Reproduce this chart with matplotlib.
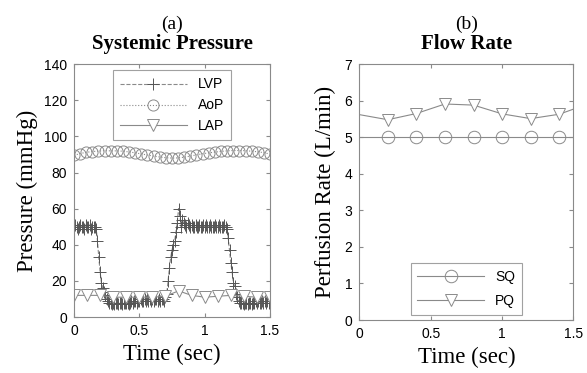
import numpy as np
import matplotlib
matplotlib.use('Agg')
import matplotlib.pyplot as plt

# (a) systemic pressure, sampled every 0.01 s
t_lvp = np.linspace(0, 1.5, 151)
lvp = [50, 51, 50, 49, 50, 51, 50, 50, 49, 51,
       50, 50, 51, 49, 50, 50, 50, 49, 42, 33,
       25, 19, 16, 14, 12, 10, 9, 8, 8, 7,
       8, 7, 8, 8, 7, 8, 8, 7, 8, 8,
       8, 8, 7, 8, 9, 8, 9, 9, 8, 9,
       9, 10, 9, 9, 10, 9, 10, 9, 10, 9,
       10, 9, 10, 10, 9, 10, 9, 10, 10, 9,
       11, 13, 20, 27, 33, 37, 40, 42, 47, 52,
       60, 56, 50, 54, 52, 51, 50, 52, 51, 50,
       51, 50, 50, 51, 50, 50, 51, 50, 50, 51,
       50, 51, 50, 50, 51, 50, 50, 50, 51, 50,
       50, 51, 50, 50, 50, 51, 50, 49, 44, 37,
       30, 25, 19, 17, 13, 11, 9, 8, 8, 8,
       7, 8, 8, 7, 8, 8, 7, 8, 8, 9,
       8, 9, 8, 8, 9, 8, 9, 8, 9, 8,
       9]

t_aop = np.linspace(0, 1.5, 33)
aop = [89.5, 90.5, 91.2, 91.6, 91.9, 92.1, 92.0, 92.0, 91.8, 91.4, 90.9,
       90.3, 89.7, 89.1, 88.6, 88.2, 88.0, 88.1, 88.5, 89.1, 89.8, 90.4,
       90.9, 91.3, 91.7, 92.0, 92.2, 92.2, 92.1, 91.8, 91.5, 91.0, 90.2]

t_lap = np.linspace(0, 1.5, 16)
lap = [12, 12, 12, 11, 11, 11, 11, 11.5, 14.5, 12, 11, 11.5, 12, 11.5, 11, 11]

# (b) flow rate
t_q = [0, 0.2, 0.4, 0.6, 0.8, 1.0, 1.2, 1.4, 1.5]
sq = [5, 5, 5, 5, 5, 5, 5, 5, 5]
pq = [5.62, 5.48, 5.65, 5.91, 5.88, 5.64, 5.51, 5.63, 5.77]

gray = '#8a8a8a'
serif = 'Liberation Serif'
sans = 'Liberation Sans'

fig = plt.figure(figsize=(5.87, 3.73), dpi=100)
ax1 = fig.add_axes([0.126, 0.150, 0.334, 0.678])
ax2 = fig.add_axes([0.612, 0.142, 0.365, 0.686])

ax1.plot(t_lvp, lvp, '--', color=gray, lw=0.8, marker='+', ms=8,
         mec='#555555', mew=0.7, label='LVP')
ax1.plot(t_aop, aop, ':', color=gray, lw=0.8, marker='o', ms=8,
         mfc='none', mec=gray, mew=0.7, label='AoP')
ax1.plot(t_lap, lap, '-', color=gray, lw=0.8, marker='v', ms=8,
         mfc='white', mec=gray, mew=0.7, label='LAP')
ax1.set_xlim(0, 1.5)
ax1.set_ylim(0, 140)
ax1.set_xticks([0, 0.5, 1, 1.5])
ax1.set_xticklabels(['0', '0.5', '1', '1.5'])
ax1.set_yticks(range(0, 141, 20))
ax1.set_xlabel('Time (sec)', family=serif, fontsize=16.5)
ax1.set_ylabel('Pressure (mmHg)', family=serif, fontsize=16.5, labelpad=4)
ax1.set_title('Systemic Pressure', family=serif, fontsize=15,
              fontweight='bold', pad=11)
fig.text(0.293, 0.922, '(a)', family=serif, fontsize=14, ha='center')
leg1 = ax1.legend(loc='upper center', bbox_to_anchor=(0.5, 0.975),
                  prop={'family': sans, 'size': 10}, handlelength=4.8,
                  frameon=True, fancybox=False, edgecolor=gray,
                  borderpad=0.5, labelspacing=0.5, borderaxespad=0)
leg1.get_frame().set_linewidth(0.8)

ax2.plot(t_q, sq, '-', color=gray, lw=0.8, marker='o', ms=9,
         mfc='none', mec=gray, mew=0.7, markevery=range(1, 8), label='SQ')
ax2.plot(t_q, pq, '-', color=gray, lw=0.8, marker='v', ms=9,
         mfc='white', mec=gray, mew=0.7, markevery=range(1, 8), label='PQ')
ax2.set_xlim(0, 1.5)
ax2.set_ylim(0, 7)
ax2.set_xticks([0, 0.5, 1, 1.5])
ax2.set_xticklabels(['0', '0.5', '1', '1.5'])
ax2.set_yticks(range(0, 8))
ax2.set_xlabel('Time (sec)', family=serif, fontsize=16.5)
ax2.set_ylabel('Perfusion Rate (L/min)', family=serif, fontsize=16.5, labelpad=6)
ax2.set_title('Flow Rate', family=serif, fontsize=15, fontweight='bold', pad=11)
fig.text(0.795, 0.922, '(b)', family=serif, fontsize=14, ha='center')
leg2 = ax2.legend(loc='lower center', bbox_to_anchor=(0.5, 0.02),
                  prop={'family': sans, 'size': 10}, handlelength=4.8,
                  frameon=True, fancybox=False, edgecolor=gray,
                  borderpad=0.5, labelspacing=0.7, borderaxespad=0)
leg2.get_frame().set_linewidth(0.8)

for ax in (ax1, ax2):
    for s in ax.spines.values():
        s.set_color(gray)
        s.set_linewidth(0.8)
    ax.tick_params(direction='in', top=True, right=True, length=3,
                   color=gray, labelsize=10, pad=5)
    for lab in ax.get_xticklabels() + ax.get_yticklabels():
        lab.set_family(sans)

fig.savefig('out.png', dpi=100)
